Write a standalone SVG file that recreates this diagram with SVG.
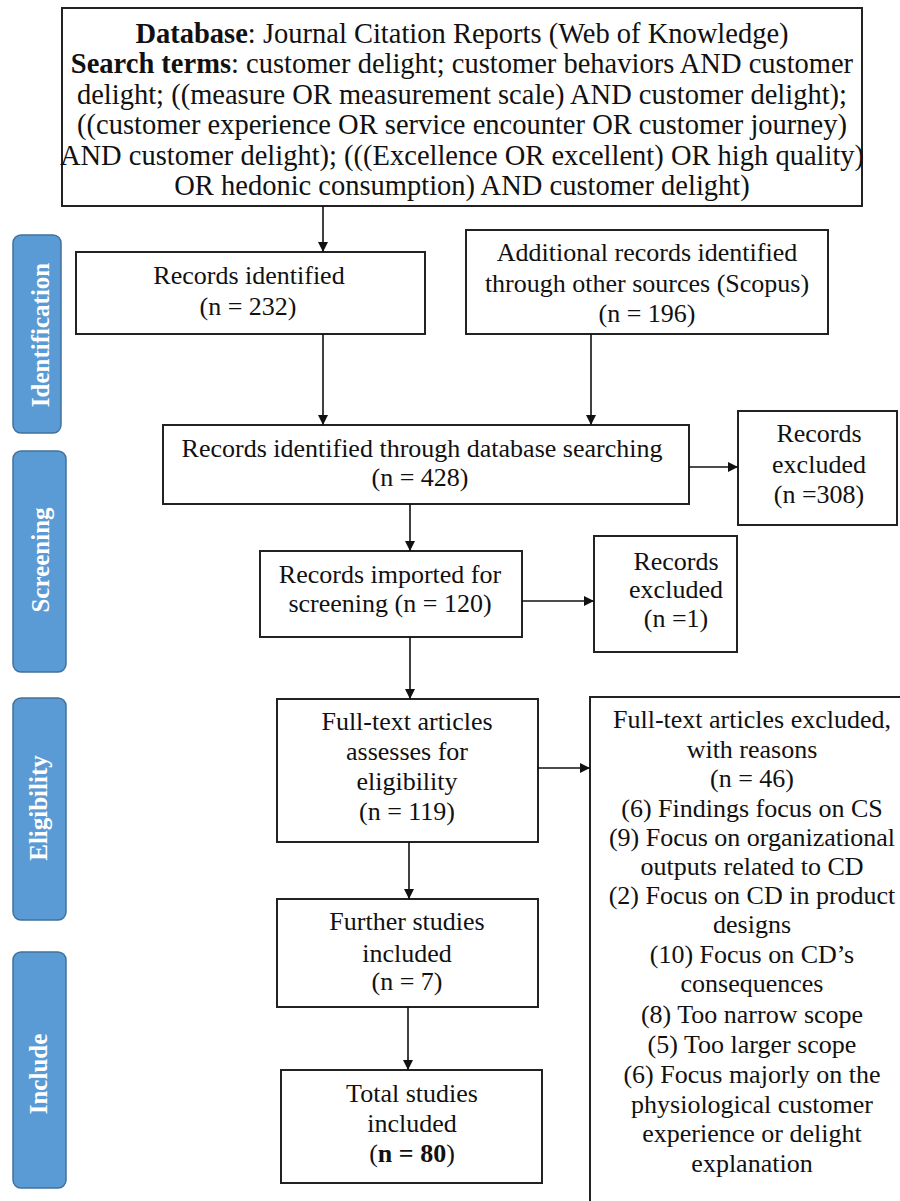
<svg xmlns="http://www.w3.org/2000/svg" width="900" height="1201" viewBox="0 0 900 1201">
  <style>
    .box { fill: #ffffff; stroke: #222222; stroke-width: 2; }
    .phase { fill: #5b9bd5; stroke: #41719c; stroke-width: 1.5; }
    .phase-label { font-weight: bold; font-size: 25px; fill: #ffffff; text-anchor: middle; }
    .t { font-size: 26px; fill: #111111; text-anchor: middle; }
    .top { font-size: 28.5px; fill: #111111; text-anchor: middle; }
    .b { font-weight: bold; }
    .conn { stroke: #111111; stroke-width: 1.6; fill: none; marker-end: url(#arrow); }
  </style>
  <defs>
    <marker id="arrow" markerUnits="userSpaceOnUse" markerWidth="10" markerHeight="10" refX="10" refY="5" orient="auto">
      <path d="M0,0 L10,5 L0,10 z" fill="#111111"/>
    </marker>
  </defs>

  <rect width="900" height="1201" fill="#ffffff"/>

  <g font-family="Liberation Serif, serif">
  <!-- phase labels -->
  <g id="phase-identification">
    <rect class="phase" x="13" y="235" width="48" height="198" rx="8"/>
    <text class="phase-label" transform="translate(49,335) rotate(-90)">Identification</text>
  </g>
  <g id="phase-screening">
    <rect class="phase" x="13" y="451" width="53" height="221" rx="8"/>
    <text class="phase-label" transform="translate(49,560) rotate(-90)">Screening</text>
  </g>
  <g id="phase-eligibility">
    <rect class="phase" x="13" y="698" width="53" height="222" rx="8"/>
    <text class="phase-label" transform="translate(47,808) rotate(-90)">Eligibility</text>
  </g>
  <g id="phase-include">
    <rect class="phase" x="13" y="952" width="53" height="236" rx="8"/>
    <text class="phase-label" transform="translate(47,1074) rotate(-90)">Include</text>
  </g>

  <!-- search strategy -->
  <g id="search">
    <rect class="box" x="62" y="8" width="800" height="198"/>
    <text class="top" x="462" y="43"><tspan class="b">Database</tspan>: Journal Citation Reports (Web of Knowledge)</text>
    <text class="top" x="462" y="73"><tspan class="b">Search terms</tspan>: customer delight; customer behaviors AND customer</text>
    <text class="top" x="462" y="104">delight; ((measure OR measurement scale) AND customer delight);</text>
    <text class="top" x="462" y="134">((customer experience OR service encounter OR customer journey)</text>
    <text class="top" x="462" y="165">AND customer delight); (((Excellence OR excellent) OR high quality)</text>
    <text class="top" x="462" y="195">OR hedonic consumption) AND customer delight)</text>
  </g>

  <g id="records-identified">
    <rect class="box" x="76" y="252" width="349" height="82"/>
    <text class="t" x="249" y="284">Records identified</text>
    <text class="t" x="248" y="315">(n = 232)</text>
  </g>

  <g id="records-scopus">
    <rect class="box" x="466" y="230" width="362" height="104"/>
    <text class="t" x="647" y="261">Additional records identified</text>
    <text class="t" x="647" y="292">through other sources (Scopus)</text>
    <text class="t" x="647" y="322">(n = 196)</text>
  </g>

  <g id="records-database">
    <rect class="box" x="163" y="425" width="526" height="79"/>
    <text class="t" x="422" y="457">Records identified through database searching</text>
    <text class="t" x="420" y="486">(n = 428)</text>
  </g>

  <g id="excluded-308">
    <rect class="box" x="738" y="411" width="159" height="114"/>
    <text class="t" x="819" y="442">Records</text>
    <text class="t" x="819" y="473">excluded</text>
    <text class="t" x="819" y="503">(n =308)</text>
  </g>

  <g id="records-imported">
    <rect class="box" x="260" y="551" width="262" height="86"/>
    <text class="t" x="390" y="583">Records imported for</text>
    <text class="t" x="390" y="612">screening (n = 120)</text>
  </g>

  <g id="excluded-1">
    <rect class="box" x="594" y="536" width="143" height="116"/>
    <text class="t" x="676" y="570">Records</text>
    <text class="t" x="676" y="598">excluded</text>
    <text class="t" x="676" y="627">(n =1)</text>
  </g>

  <g id="full-text">
    <rect class="box" x="277" y="699" width="261" height="143"/>
    <text class="t" x="407" y="730">Full-text articles</text>
    <text class="t" x="407" y="760">assesses  for</text>
    <text class="t" x="407" y="790">eligibility</text>
    <text class="t" x="407" y="820">(n = 119)</text>
  </g>

  <g id="further-studies">
    <rect class="box" x="277" y="899" width="261" height="108"/>
    <text class="t" x="407" y="930">Further studies</text>
    <text class="t" x="407" y="962">included</text>
    <text class="t" x="407" y="990">(n = 7)</text>
  </g>

  <g id="total-studies">
    <rect class="box" x="281" y="1070" width="261" height="113"/>
    <text class="t" x="412" y="1102">Total studies</text>
    <text class="t" x="412" y="1132">included</text>
    <text class="t" x="412" y="1162">(<tspan class="b">n = 80</tspan>)</text>
  </g>

  <g id="excluded-reasons">
    <rect class="box" x="590" y="697" width="320" height="520"/>
    <text class="t" x="752" y="728">Full-text articles excluded,</text>
    <text class="t" x="752" y="758">with reasons</text>
    <text class="t" x="752" y="787">(n = 46)</text>
    <text class="t" x="752" y="817">(6) Findings focus on CS</text>
    <text class="t" x="752" y="846">(9) Focus on organizational</text>
    <text class="t" x="752" y="875">outputs related to CD</text>
    <text class="t" x="752" y="904">(2) Focus on CD in product</text>
    <text class="t" x="752" y="933">designs</text>
    <text class="t" x="752" y="963">(10) Focus on CD’s</text>
    <text class="t" x="752" y="992">consequences</text>
    <text class="t" x="752" y="1023">(8) Too narrow scope</text>
    <text class="t" x="752" y="1053">(5) Too larger scope</text>
    <text class="t" x="752" y="1083">(6) Focus majorly on the</text>
    <text class="t" x="752" y="1113">physiological customer</text>
    <text class="t" x="752" y="1142">experience or delight</text>
    <text class="t" x="752" y="1172">explanation</text>
  </g>
  </g>

  <!-- connectors -->
  <g id="connectors">
    <line class="conn" x1="323" y1="206" x2="323" y2="252"/>
    <line class="conn" x1="323" y1="334" x2="323" y2="425"/>
    <line class="conn" x1="591" y1="334" x2="591" y2="425"/>
    <line class="conn" x1="689" y1="467" x2="738" y2="467"/>
    <line class="conn" x1="410" y1="504" x2="410" y2="551"/>
    <line class="conn" x1="522" y1="601" x2="594" y2="601"/>
    <line class="conn" x1="410" y1="637" x2="410" y2="699"/>
    <line class="conn" x1="538" y1="768" x2="590" y2="768"/>
    <line class="conn" x1="409" y1="842" x2="409" y2="899"/>
    <line class="conn" x1="408" y1="1007" x2="408" y2="1070"/>
  </g>
</svg>
